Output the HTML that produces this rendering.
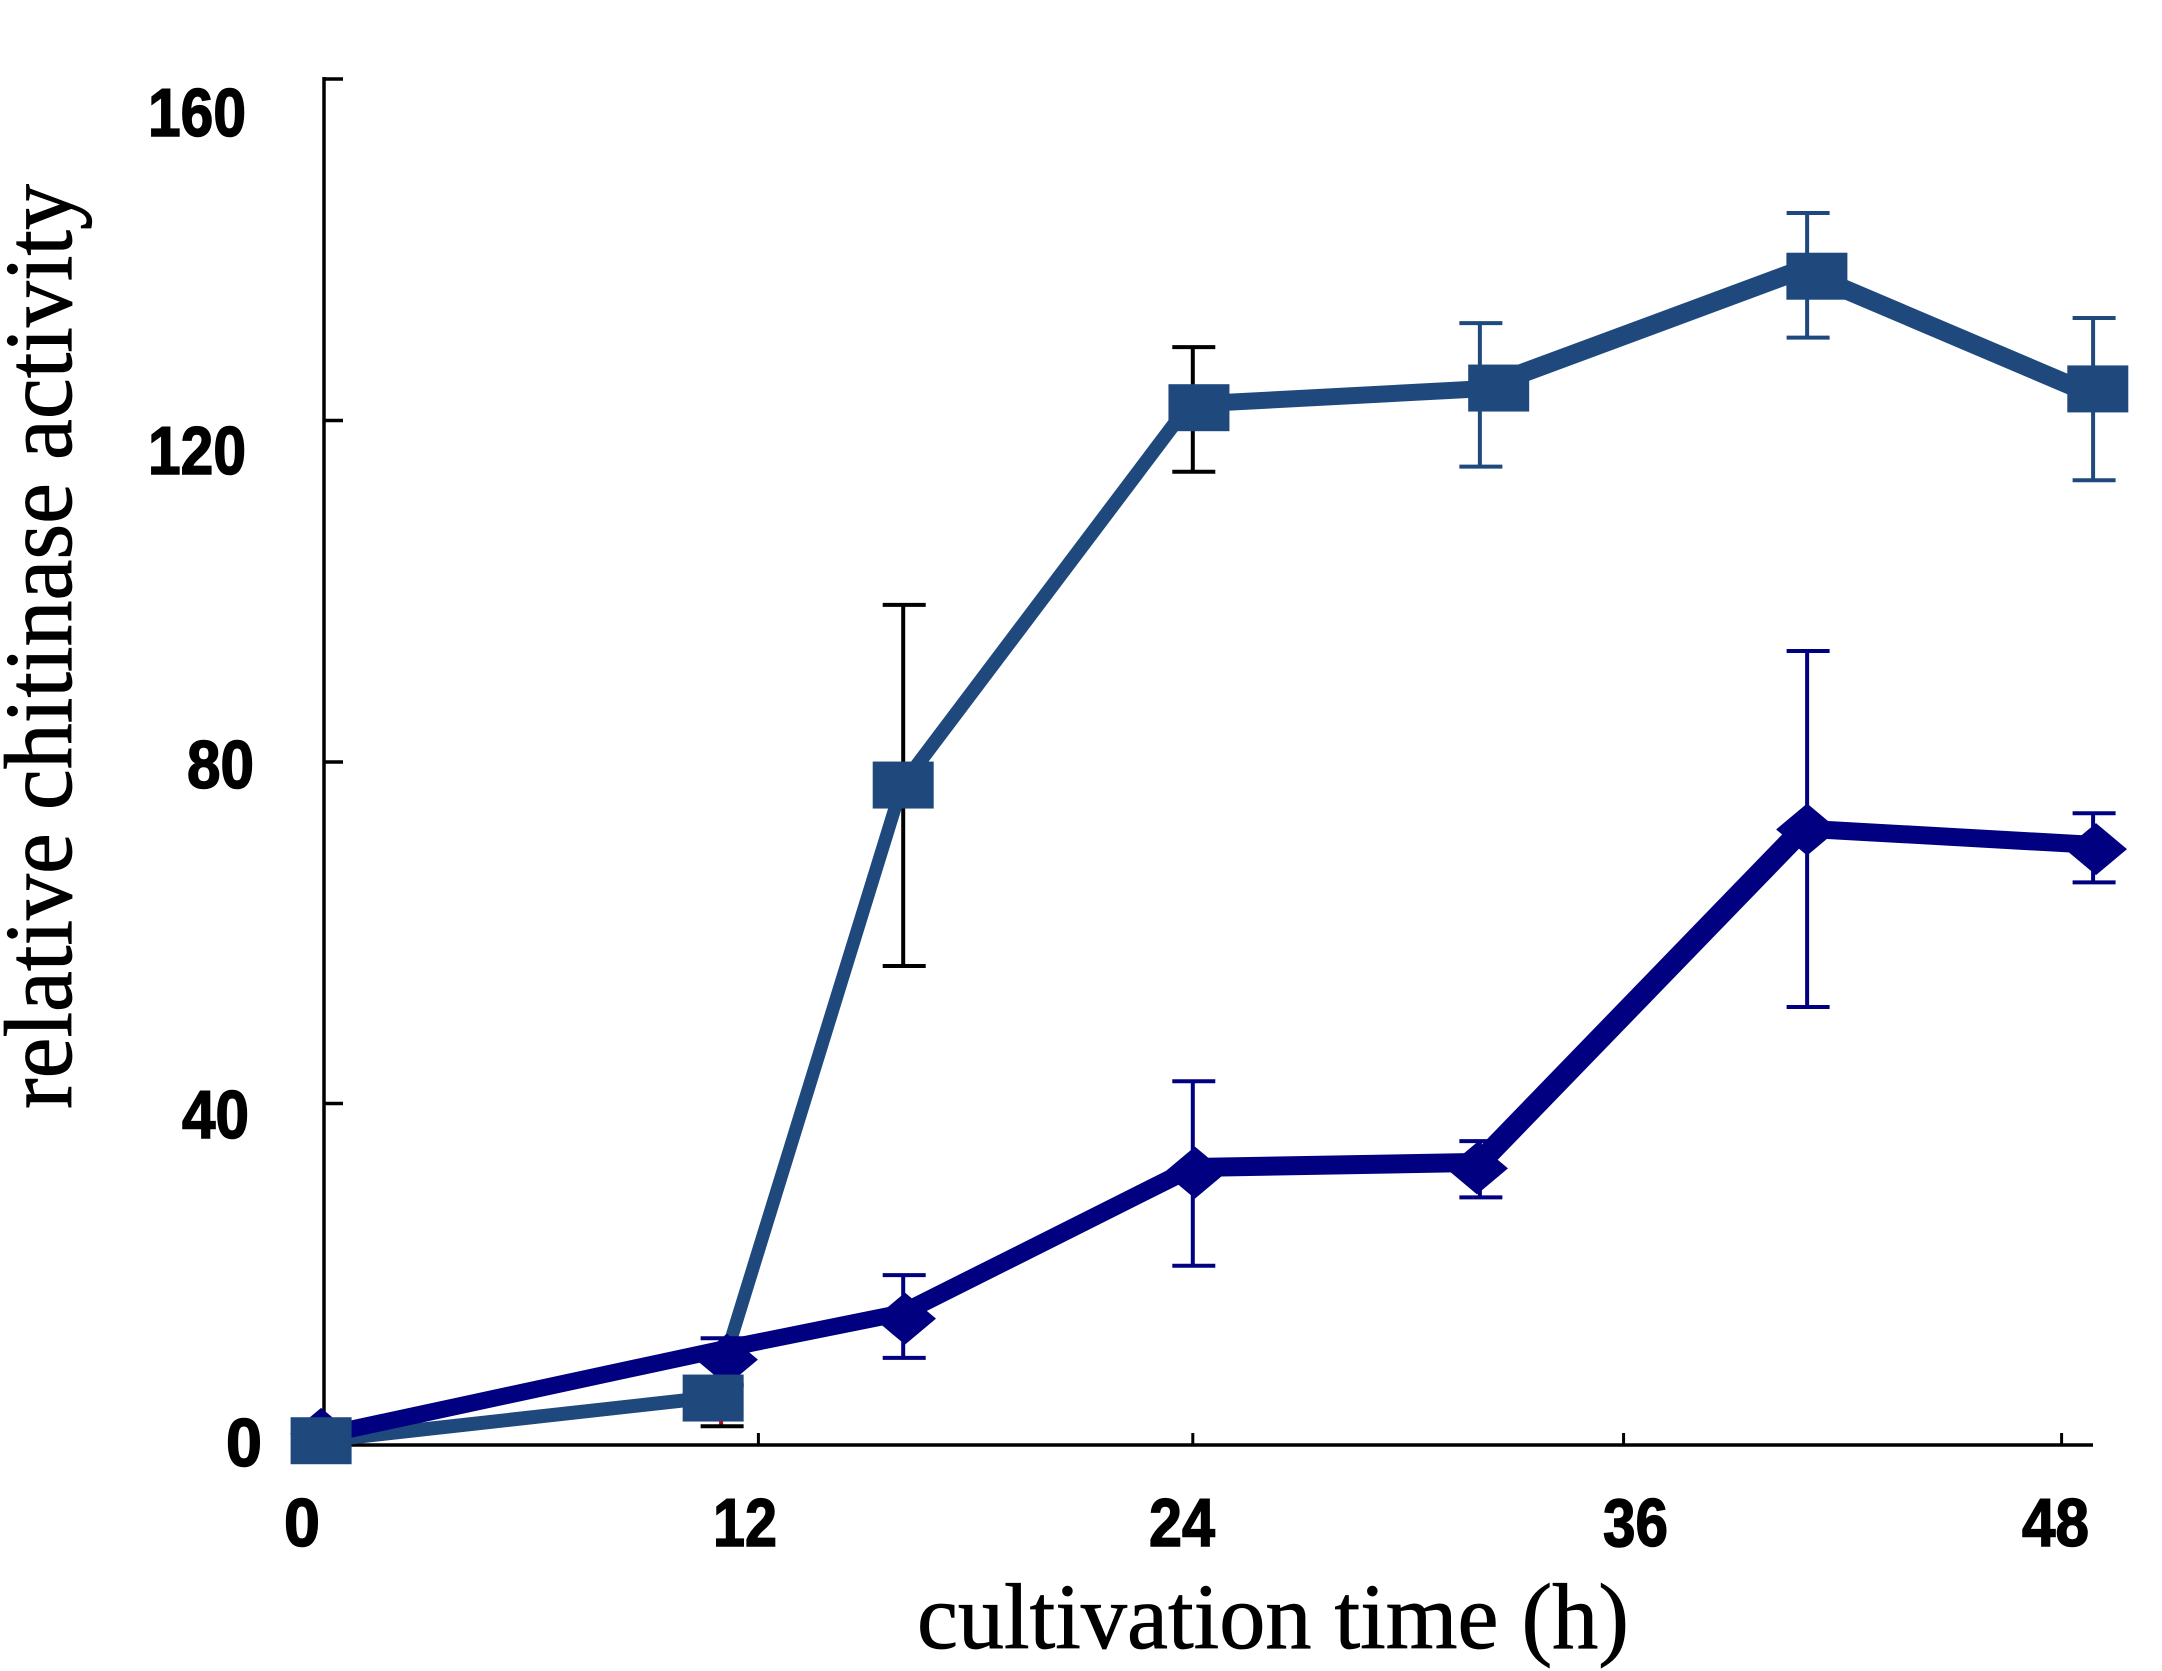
<!DOCTYPE html>
<html>
<head>
<meta charset="utf-8">
<title>Relative chitinase activity</title>
<style>
html,body{margin:0;padding:0;background:#fff;width:2162px;height:1671px;overflow:hidden}
svg{display:block}
.num{font-family:"Liberation Sans",sans-serif;font-weight:bold;font-size:68px;fill:#000;stroke:#000;stroke-width:1.5px}
.ttl{font-family:"Liberation Serif",serif;fill:#000;stroke:#000;stroke-width:.8px}
</style>
</head>
<body>
<svg id="chart" xmlns="http://www.w3.org/2000/svg" width="2162" height="1671" viewBox="0 0 2162 1671">
<rect width="2162" height="1671" fill="#fff"/>
<g id="axes"></g>
<g id="plot"></g>
<g>
<text class="num" x="148" y="136" textLength="98" lengthAdjust="spacingAndGlyphs">160</text>
<text class="num" x="148" y="474" textLength="98" lengthAdjust="spacingAndGlyphs">120</text>
<text class="num" x="187" y="788" textLength="67" lengthAdjust="spacingAndGlyphs">80</text>
<text class="num" x="182" y="1138" textLength="67" lengthAdjust="spacingAndGlyphs">40</text>
<text class="num" x="226" y="1466" textLength="36" lengthAdjust="spacingAndGlyphs">0</text>
</g>
<g>
<text class="num" x="284" y="1546" textLength="36" lengthAdjust="spacingAndGlyphs">0</text>
<text class="num" x="713" y="1546" textLength="64" lengthAdjust="spacingAndGlyphs">12</text>
<text class="num" x="1149" y="1546" textLength="66" lengthAdjust="spacingAndGlyphs">24</text>
<text class="num" x="1603" y="1546" textLength="65" lengthAdjust="spacingAndGlyphs">36</text>
<text class="num" x="2022" y="1546" textLength="67" lengthAdjust="spacingAndGlyphs">48</text>
</g>
<text class="ttl" font-size="96" transform="translate(71,1109) rotate(-90)" textLength="925" lengthAdjust="spacingAndGlyphs">relative chitinase activity</text>
<text class="ttl" font-size="93" x="917" y="1648" textLength="712" lengthAdjust="spacingAndGlyphs">cultivation time (h)</text>
</svg>
<script>
// --- chart data ---
const yTickValues = [0, 40, 80, 120, 160];
const xTickValues = [12, 24, 35.9, 48];

const squareLineHours = [-0.08, 10.75, 15.97, 23.9, 31.93, 40.77, 48.87];
const squareLineValues = [0.5, 5.6, 77.3, 121.9, 123.7, 137.6, 123];
const squareMarkerHours = [-0.08, 10.75, 16, 24.17, 32.45, 41.24, 49];
const squareMarkerValues = [0.5, 5.5, 77.3, 121.5, 123.8, 136.9, 123.7];
const squareErrorHours = [10.97, 16, 24, 31.93, 40.97, 48.87];
const squareErrorUpper = [7, 98.4, 128.6, 131.4, 144.3, 132];
const squareErrorLower = [2.2, 56.1, 114, 114.6, 129.7, 113];
const squareErrorColors = ["#c00000", "#000000", "#000000", "#1F497D", "#1F497D", "#1F497D"];

const diamondLineHours = [-0.08, 10.97, 16, 24, 31.93, 40.86, 48.87];
const diamondLineValues = [1.1, 11.2, 15.5, 32.5, 33.1, 72.2, 70.3];
const diamondMarkerHours = [-0.08, 11.13, 16.05, 24.06, 31.85, 40.97, 48.95];
const diamondMarkerValues = [1.3, 10, 14.8, 31.9, 32.4, 72.1, 69.8];
const diamondErrorHours = [10.97, 16, 24, 31.93, 40.97, 48.87];
const diamondErrorUpper = [12.5, 19.9, 42.6, 35.6, 93, 74];
const diamondErrorLower = [7, 10.2, 21, 29, 51.3, 65.9];

// --- per-segment stroke styling (not data) ---
const squareSegmentWidths = [14, 13, 14, 17, 19, 19];
const diamondSegmentWidths = [17, 17, 18, 19, 22, 18];

// --- axis functions ---
function xScale(h) { return 324 + 36.2 * h; }
function yScale(v) { return 1445 - 8.5375 * v; }

const NS = "http://www.w3.org/2000/svg";
const axes = document.getElementById("axes");
const plot = document.getElementById("plot");

function mk(tag, parent, attrs) {
  const el = document.createElementNS(NS, tag);
  for (const k in attrs) el.setAttribute(k, attrs[k]);
  parent.appendChild(el);
  return el;
}

// axes
const yAxisLine = mk("line", axes, {x1: xScale(0), x2: xScale(0), y1: yScale(160) - 2, y2: yScale(0) + 2, stroke: "#000", "stroke-width": 3.5});


const xAxisLine = mk("line", axes, {x1: xScale(0), x2: 2093, y1: yScale(0), y2: yScale(0), stroke: "#000", "stroke-width": 3.5});


yTickValues.forEach(v => {
  const t = mk("line", axes, {x1: xScale(0), x2: xScale(0) + 19, y1: yScale(v), y2: yScale(v), stroke: "#000", "stroke-width": 3.5});
  
  
});
xTickValues.forEach(h => {
  const t = mk("line", axes, {x1: xScale(h), x2: xScale(h), y1: yScale(0), y2: yScale(0) - 12, stroke: "#000", "stroke-width": 3});
  
  
});

function errorBars(hours, upper, lower, colors, seriesName) {
  hours.forEach((h, i) => {
    const c = Array.isArray(colors) ? colors[i] : colors;
    const capColor = (seriesName === "square" && i === 0) ? "#000000" : c;
    const x = xScale(h), yu = yScale(upper[i]), yl = yScale(lower[i]);
    const bar = mk("line", plot, {x1: x, x2: x, y1: yu, y2: yl, stroke: c, "stroke-width": 4});
    
    
    const capTop = mk("line", plot, {x1: x - 20.5, x2: x + 22.5, y1: yu, y2: yu, stroke: capColor, "stroke-width": 4});
    
    
    const capBot = mk("line", plot, {x1: x - 20.5, x2: x + 22.5, y1: yl, y2: yl, stroke: capColor, "stroke-width": 4});
    
    
  });
}

function seriesLine(hours, values, color, widths, seriesName) {
  for (let i = 0; i < hours.length - 1; i++) {
    const seg = mk("line", plot, {
      x1: xScale(hours[i]), y1: yScale(values[i]),
      x2: xScale(hours[i + 1]), y2: yScale(values[i + 1]),
      stroke: color, "stroke-width": widths[i], "stroke-linecap": "round"
    });
    
    
  }
}

// square error bars and line (under the diamond series)
errorBars(squareErrorHours, squareErrorUpper, squareErrorLower, squareErrorColors, "square");
seriesLine(squareLineHours, squareLineValues, "#1F497D", squareSegmentWidths, "square");

// diamond series
errorBars(diamondErrorHours, diamondErrorUpper, diamondErrorLower, "#000080", "diamond");
seriesLine(diamondLineHours, diamondLineValues, "#000080", diamondSegmentWidths, "diamond");
diamondMarkerHours.forEach((h, i) => {
  const cx = xScale(h), cy = yScale(diamondMarkerValues[i]);
  const d = mk("polygon", plot, {points: [cx, cy - 26, cx + 31, cy, cx, cy + 26, cx - 31, cy].join(" "), fill: "#000080"});
  
  
});

// square markers on top
squareMarkerHours.forEach((h, i) => {
  const cx = xScale(h), cy = yScale(squareMarkerValues[i]);
  const r = mk("rect", plot, {x: cx - 30.5, y: cy - 23.5, width: 61, height: 47, fill: "#1F497D"});
  
  
});
</script>
</body>
</html>
